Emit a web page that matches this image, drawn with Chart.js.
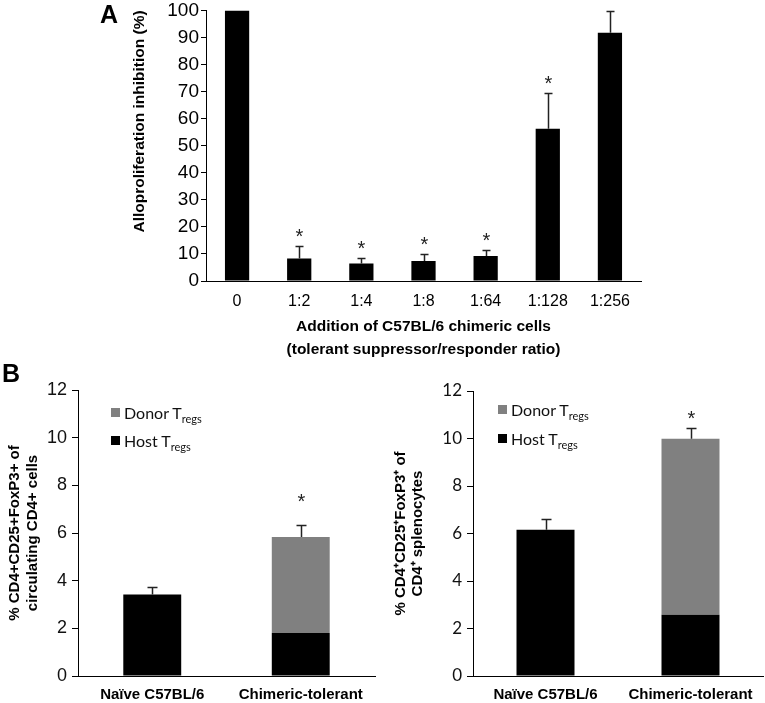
<!DOCTYPE html>
<html>
<head>
<meta charset="utf-8">
<script src="https://cdn.jsdelivr.net/npm/chart.js@4.4.0/dist/chart.umd.min.js"></script>
<style>
  html, body { margin: 0; padding: 0; background: #fff; }
  #wrap { position: relative; width: 765px; height: 703px; overflow: hidden; }
  canvas { position: absolute; }
  .panel { position: absolute; font: bold 25px "Liberation Sans", Arial, sans-serif; line-height: 25px; color: #000; }
  .leg { position: absolute; display: flex; align-items: center; height: 18px; font: 16px Lato, sans-serif; color: #111; white-space: nowrap; }
  .leg i { display: block; width: 9px; height: 9px; margin-right: 4px; }
  .leg sub { font-size: 11px; vertical-align: -4px; line-height: 0; }
</style>
</head>
<body>
<div id="wrap">
  <canvas id="chartA" width="765" height="368" style="left:0;top:-3px"></canvas>
  <canvas id="chartB1" width="385" height="333" style="left:0;top:370px"></canvas>
  <canvas id="chartB2" width="385" height="333" style="left:380px;top:370px"></canvas>
  <div class="panel" style="left:100px;top:2px">A</div>
  <div class="panel" style="left:2px;top:361px">B</div>
  <div class="leg" style="left:111px;top:403px"><i id="swD1"></i><span>Donor T<sub>regs</sub></span></div>
  <div class="leg" style="left:111px;top:431px"><i id="swH1"></i><span>Host T<sub>regs</sub></span></div>
  <div class="leg" style="left:498px;top:400px"><i id="swD2"></i><span>Donor T<sub>regs</sub></span></div>
  <div class="leg" style="left:498px;top:429px"><i id="swH2"></i><span>Host T<sub>regs</sub></span></div>
</div>
<script>
// Panel A - inhibicio de l'aloproliferacio segons la proporcio de cel.lules
const ratioLabels = ['0', '1:2', '1:4', '1:8', '1:64', '1:128', '1:256'];
const inhibition = [100, 8.3, 6.5, 7.4, 9.2, 56.3, 91.7];
const inhibitionErr = [0, 4.6, 2.0, 2.4, 2.4, 13.2, 8.2];
const inhibitionSig = [false, true, true, true, true, true, false];

// Panel B - Tregs (host / donor)
const groupLabels = ['Naïve C57BL/6', 'Chimeric-tolerant'];
const bloodHost = [3.42, 1.80];
const bloodDonor = [null, 4.03];
const bloodErr = [0.33, 0.49];
const spleenHost = [6.16, 2.58];
const spleenDonor = [null, 7.41];
const spleenErr = [0.43, 0.44];
const groupSig = [false, true];

const BLACK = '#000000';
const GREY = '#808080';
const arial = '"Liberation Sans", Arial, sans-serif';

// Colors del llegend HTML
document.getElementById('swD1').style.background = GREY;
document.getElementById('swD2').style.background = GREY;
document.getElementById('swH1').style.background = BLACK;
document.getElementById('swH2').style.background = BLACK;

// Plugin per dibuixar les barres d'error (nomes la meitat superior) i els asteriscs
const errorBarPlugin = {
    id: 'errorBars',
    afterDatasetsDraw(chart, args, opts) {
        const ctx = chart.ctx;
        const yScale = chart.scales.y;
        const meta = chart.getDatasetMeta(0);
        ctx.save();
        ctx.strokeStyle = '#222';
        ctx.lineWidth = 1.5;
        chart.data.labels.forEach((lab, i) => {
            const total = chart.data.datasets.reduce((s, ds) => s + (ds.data[i] || 0), 0);
            const x = Math.round(meta.data[i].x) + 0.5;
            const yTop = yScale.getPixelForValue(total);
            const yErr = Math.round(yScale.getPixelForValue(total + opts.errors[i])) + 0.5;
            if (opts.errors[i] > 0) {
                ctx.beginPath();
                ctx.moveTo(x, yTop);
                ctx.lineTo(x, yErr);
                ctx.moveTo(x - opts.cap / 2, yErr);
                ctx.lineTo(x + opts.cap / 2, yErr);
                ctx.stroke();
            }
            if (opts.stars[i]) {
                ctx.fillStyle = '#222';
                ctx.font = '20px ' + arial;
                ctx.textAlign = 'center';
                ctx.textBaseline = 'alphabetic';
                ctx.fillText('*', x, yErr - opts.gap + 11.6);
            }
        });
        ctx.restore();
    }
};

const chartA = new Chart(document.getElementById('chartA'), {
    type: 'bar',
    data: {
        labels: ratioLabels,
        datasets: [{
            data: inhibition,
            backgroundColor: BLACK,
            barPercentage: 0.39,
            categoryPercentage: 1
        }]
    },
    options: {
        responsive: false,
        animation: false,
        layout: { padding: { left: 130, top: 11, right: 124, bottom: 3.5 } },
        plugins: {
            legend: { display: false },
            tooltip: { enabled: false },
            errorBars: { errors: inhibitionErr, stars: inhibitionSig, gap: 15, cap: 8 }
        },
        scales: {
            x: {
                grid: { display: false, drawTicks: false },
                border: { color: '#000', width: 1 },
                ticks: { color: '#000', font: { family: arial, size: 16 }, padding: 11 },
                title: {
                    display: true,
                    text: ['Addition of C57BL/6 chimeric cells', '(tolerant suppressor/responder ratio)'],
                    color: '#000',
                    font: { family: arial, size: 15.5, weight: 'bold', lineHeight: '23px' },
                    padding: 0
                },
                afterFit: s => { s.height = 80.5; }
            },
            y: {
                min: 0,
                max: 100,
                ticks: { stepSize: 10, color: '#000', font: { family: arial, size: 19 }, padding: 2 },
                grid: { display: true, drawOnChartArea: false, drawTicks: true, tickLength: 5, color: '#000' },
                border: { color: '#000', width: 1 },
                title: {
                    display: true,
                    text: 'Alloproliferation inhibition (%)',
                    align: 'end',
                    color: '#000',
                    font: { family: arial, size: 15.5, weight: 'bold', lineHeight: '18.6px' },
                    padding: 0
                },
                afterFit: s => { s.width = 76; }
            }
        }
    },
    plugins: [errorBarPlugin]
});

// Grafic apilat per al panell B
const makeGroupChart = (id, host, donor, errs, cfg) => {
    return new Chart(document.getElementById(id), {
        type: 'bar',
        data: {
            labels: groupLabels,
            datasets: [
                { label: 'Host Tregs', data: host, backgroundColor: BLACK, barPercentage: cfg.barPct, categoryPercentage: 1 },
                { label: 'Donor Tregs', data: donor, backgroundColor: GREY, barPercentage: cfg.barPct, categoryPercentage: 1 }
            ]
        },
        options: {
            responsive: false,
            animation: false,
            layout: { padding: cfg.padding },
            plugins: {
                legend: { display: false },
                tooltip: { enabled: false },
                errorBars: { errors: errs, stars: groupSig, gap: cfg.gap, cap: 10 }
            },
            scales: {
                x: {
                    stacked: true,
                    grid: { display: false, drawTicks: false },
                    border: { color: '#000', width: 1 },
                    ticks: { color: '#000', font: { family: arial, size: 15, weight: 'bold' }, padding: 10 },
                    afterFit: s => { s.height = 27; }
                },
                y: {
                    stacked: true,
                    min: 0,
                    max: 12,
                    ticks: { stepSize: 2, color: '#111', font: cfg.tickFont, padding: 5 },
                    grid: { display: true, drawOnChartArea: false, drawTicks: true, tickLength: 6, color: '#000' },
                    border: { color: '#000', width: 1 },
                    title: {
                        display: true,
                        text: cfg.title,
                        color: '#000',
                        font: { family: arial, size: 15, weight: 'bold', lineHeight: cfg.titleLH },
                        padding: 0
                    },
                    afterFit: s => { s.width = cfg.yWidth; }
                }
            }
        },
        plugins: [errorBarPlugin]
    });
};

makeGroupChart('chartB1', bloodHost, bloodDonor, bloodErr, {
    barPct: 0.39,
    padding: { left: 6, top: 20, right: 10, bottom: 0 },
    gap: 29,
    tickFont: { family: arial, size: 18 },
    title: ['% CD4+CD25+FoxP3+ of', 'circulating CD4+ cells'],
    titleLH: '18px',
    yWidth: 72
});

makeGroupChart('chartB2', spleenHost, spleenDonor, spleenErr, {
    barPct: 0.4,
    padding: { left: 12.5, top: 21, right: 2, bottom: 0 },
    gap: 15,
    tickFont: { family: 'Lato, sans-serif', size: 17 },
    title: ['% CD4⁺CD25⁺FoxP3⁺ of', 'CD4⁺ splenocytes'],
    titleLH: '17px',
    yWidth: 80.5
});
</script>
</body>
</html>
